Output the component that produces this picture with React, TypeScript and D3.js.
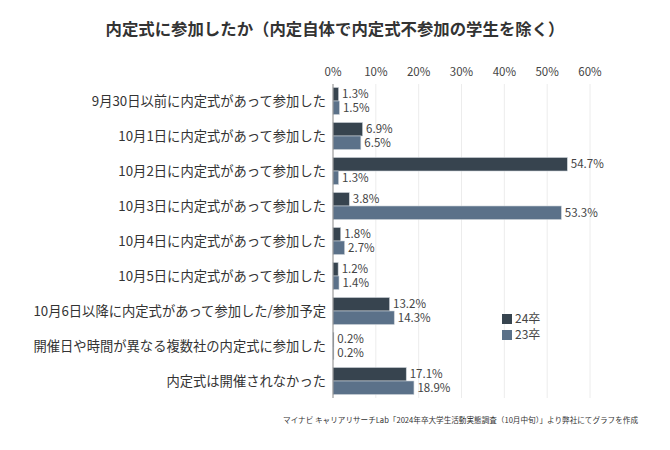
import * as d3 from 'd3';

const categories = [
  '9月30日以前に内定式があって参加した',
  '10月1日に内定式があって参加した',
  '10月2日に内定式があって参加した',
  '10月3日に内定式があって参加した',
  '10月4日に内定式があって参加した',
  '10月5日に内定式があって参加した',
  '10月6日以降に内定式があって参加した/参加予定',
  '開催日や時間が異なる複数社の内定式に参加した',
  '内定式は開催されなかった',
];
const series = ['24卒', '23卒'];
const values24 = [1.3, 6.9, 54.7, 3.8, 1.8, 1.2, 13.2, 0.2, 17.1];
const values23 = [1.5, 6.5, 1.3, 53.3, 2.7, 1.4, 14.3, 0.2, 18.9];
const xTicks = [0, 10, 20, 30, 40, 50, 60];

const colors = ['#37444f', '#5b7189'];
const font = '"Noto Sans CJK JP", "Noto Sans", sans-serif';

export default function App() {
  const width = 670;
  const height = 450;

  const x = d3.scaleLinear().domain([0, 60]).range([333, 590]);
  const y = d3.scaleBand().domain(categories).range([83.5, 398.5]).paddingInner(0.23).paddingOuter(0.115);
  const sub = d3.scaleBand().domain(series).range([0, y.bandwidth()]);

  const rows = categories.map((c, i) => ({ c, v: [values24[i], values23[i]] }));

  return (
    <svg width={width} height={height} style={{ position: 'absolute', left: 0, top: 0, background: '#fff' }}>
      <text x={335} y={35} textAnchor="middle" fontFamily={font} fontSize={16.4} fontWeight={600} fill="#333">
        内定式に参加したか（内定自体で内定式不参加の学生を除く）
      </text>

      {xTicks.map(t => (
        <g key={t}>
          {t > 0 && <line x1={x(t)} x2={x(t)} y1={84} y2={398} stroke="#ececec" strokeWidth={1} />}
          <text x={x(t)} y={76} textAnchor="middle" fontFamily={font} fontSize={11.5} fill="#444">
            {t}%
          </text>
        </g>
      ))}

      {rows.map(r => (
        <g key={r.c}>
          <text
            x={326}
            y={(y(r.c) ?? 0) + y.bandwidth() / 2}
            dy="0.35em"
            textAnchor="end"
            fontFamily={font}
            fontSize={13.3}
            fill="#333"
          >
            {r.c}
          </text>
          {series.map((s, j) => {
            const by = (y(r.c) ?? 0) + (sub(s) ?? 0);
            return (
              <g key={s}>
                <rect
                  x={x(0)}
                  y={by}
                  width={x(r.v[j]) - x(0)}
                  height={sub.bandwidth()}
                  fill={colors[j]}
                  stroke="#c9d0d6"
                  strokeWidth={0.6}
                />
                <text
                  x={x(r.v[j]) + 3.5}
                  y={by + sub.bandwidth() / 2}
                  dy="0.36em"
                  fontFamily={font}
                  fontSize={11.5}
                  fill="#444"
                >
                  {r.v[j].toFixed(1)}%
                </text>
              </g>
            );
          })}
        </g>
      ))}

      <line x1={x(0)} x2={x(0)} y1={84} y2={398} stroke="#888" strokeWidth={1} />

      {series.map((s, j) => (
        <g key={s} transform={`translate(502,${314 + j * 16})`}>
          <rect width={10} height={10} fill={colors[j]} />
          <text x={13} y={5} dy="0.36em" fontFamily={font} fontSize={12} fill="#444">
            {s}
          </text>
        </g>
      ))}

      <text x={638} y={423} textAnchor="end" fontFamily={font} fontSize={7.6} fill="#333">
        マイナビ キャリアリサーチLab「2024年卒大学生活動実態調査（10月中旬）」より弊社にてグラフを作成
      </text>
    </svg>
  );
}
